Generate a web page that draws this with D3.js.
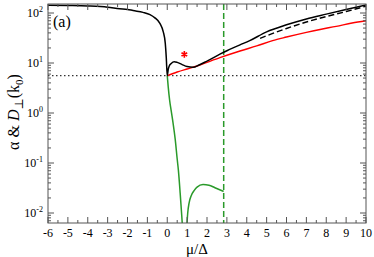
<!DOCTYPE html>
<html><head><meta charset="utf-8">
<script src="https://cdn.jsdelivr.net/npm/d3@7"></script>
<style>body{margin:0;background:#fff}svg{display:block}svg text{font-family:"Liberation Serif","DejaVu Serif",serif !important}</style>
</head><body><div id="c"></div>
<script>
const blackMu = [-6,-5,-4,-3,-2.4,-2,-1.72,-1.22,-0.87,-0.62,-0.37,-0.2,-0.1,-0.05,0,0.05,0.1,0.2,0.35,0.5,0.75,1.0,1.3,1.6,2.0,2.65,3.0,3.66,4.15,5,6,7,8,9,10];
const blackVal = [143,141,138,131,122,118,112,103,93,80,62,42,25,13,5.6,7.5,8.7,9.8,10.6,10.3,9.3,8.5,8.2,9.1,10.9,15,17.6,23,28,42,58,76,95,118,145];
const dashMu = [4.67,5,6,7,8,9,10];
const dashVal = [31,35,49,66,85,107,137];
const redMu = [0,0.5,1,1.5,2,2.65,3.66,4.5,5.3,6,7,7.69,8.5,9.3,10];
const redVal = [5.6,6.6,7.6,8.7,10.3,12.8,17.4,22,28,33,41,47,54,63,70];
const green1Mu = [0,0.05,0.12,0.2,0.3,0.4,0.5,0.56,0.65,0.72,0.77,0.8];
const green1Val = [5.6,3.3,1.8,1.1,0.6,0.3,0.12,0.072,0.025,0.01,0.005,0.003];
const green2Mu = [0.95,0.98,1.03,1.1,1.2,1.35,1.5,1.8,2.1,2.4,2.84];
const green2Val = [0.003,0.005,0.01,0.016,0.022,0.028,0.033,0.037,0.036,0.032,0.027];
const starMu = [0.86], starVal = [14.9];
const hLineVal = 5.6;
const vLineMu = 2.84;
const xTicks = d3.range(-6, 11, 1);
const yDecades = [-2,-1,0,1,2];

const W=374,H=257, L=48, R=366, T=4, B=223;
const svg = d3.select("#c").append("svg").attr("width",W).attr("height",H);
const x = d3.scaleLinear().domain([-6,10]).range([L,R]);
const y = d3.scaleLog().domain([Math.pow(10,-2.2), Math.pow(10,2.18)]).range([B,T]);

svg.append("defs").append("clipPath").attr("id","clip").append("rect").attr("x",L).attr("y",T).attr("width",R-L).attr("height",B-T);
const g = svg.append("g").attr("clip-path","url(#clip)");

const line = d3.line().x(d=>x(d[0])).y(d=>y(d[1])).curve(d3.curveMonotoneX);
const zip = (a,b)=>a.map((v,i)=>[v,b[i]]);

g.append("line").attr("x1",L).attr("x2",R).attr("y1",y(hLineVal)).attr("y2",y(hLineVal))
 .attr("stroke","#333").attr("stroke-width",1.2).attr("stroke-dasharray","1.5,2.5");
g.append("line").attr("x1",x(vLineMu)).attr("x2",x(vLineMu)).attr("y1",T).attr("y2",B)
 .attr("stroke","#2a9a2a").attr("stroke-width",1.5).attr("stroke-dasharray","6,3");

g.append("path").attr("d",line(zip(green1Mu,green1Val))).attr("fill","none").attr("stroke","#2a9a2a").attr("stroke-width",1.5);
g.append("path").attr("d",line(zip(green2Mu,green2Val))).attr("fill","none").attr("stroke","#2a9a2a").attr("stroke-width",1.5);
g.append("path").attr("d",line(zip(redMu,redVal))).attr("fill","none").attr("stroke","#ff0000").attr("stroke-width",1.5);
g.append("path").attr("d",line(zip(dashMu,dashVal))).attr("fill","none").attr("stroke","#000").attr("stroke-width",1.4).attr("stroke-dasharray","6,3");
g.append("path").attr("d",line(zip(blackMu,blackVal))).attr("fill","none").attr("stroke","#000").attr("stroke-width",1.5);

svg.selectAll(".star").data(zip(starMu,starVal)).enter().append("path")
 .attr("transform",d=>`translate(${x(d[0])},${y(d[1])})`)
 .attr("d",d3.symbol().type(d3.symbolAsterisk).size(30))
 .attr("stroke","#ff0000").attr("stroke-width",1.6).attr("fill","none");

const ax = svg.append("g").attr("stroke","#555").attr("stroke-width",1);
ax.append("rect").attr("x",L).attr("y",T).attr("width",R-L).attr("height",B-T).attr("fill","none");
const xMinor = d3.range(-5.5,10,1);
xTicks.forEach(t=>{
  ax.append("line").attr("x1",x(t)).attr("x2",x(t)).attr("y1",B).attr("y2",B-6);
  ax.append("line").attr("x1",x(t)).attr("x2",x(t)).attr("y1",T).attr("y2",T+6);
});
xMinor.forEach(t=>{
  ax.append("line").attr("x1",x(t)).attr("x2",x(t)).attr("y1",B).attr("y2",B-3);
  ax.append("line").attr("x1",x(t)).attr("x2",x(t)).attr("y1",T).attr("y2",T+3);
});
const yMin=[];
for(let e=-3;e<=2;e++) for(let k=2;k<=9;k++){const v=k*Math.pow(10,e); if(v>y.domain()[0]&&v<y.domain()[1]) yMin.push(v);}
yDecades.forEach(e=>{const v=Math.pow(10,e);
  ax.append("line").attr("x1",L).attr("x2",L+6).attr("y1",y(v)).attr("y2",y(v));
  ax.append("line").attr("x1",R).attr("x2",R-6).attr("y1",y(v)).attr("y2",y(v));
});
yMin.forEach(v=>{
  ax.append("line").attr("x1",L).attr("x2",L+3).attr("y1",y(v)).attr("y2",y(v));
  ax.append("line").attr("x1",R).attr("x2",R-3).attr("y1",y(v)).attr("y2",y(v));
});

svg.selectAll(".xl").data(xTicks).enter().append("text")
 .attr("x",d=>x(d)).attr("y",237).attr("text-anchor","middle").attr("font-size",12).attr("fill","#000")
 .text(d=>d);
yDecades.forEach(e=>{
  const t = svg.append("text").attr("x",43).attr("y",y(Math.pow(10,e))+4).attr("text-anchor","end").attr("font-size",12);
  t.append("tspan").text("10");
  t.append("tspan").attr("dy",-5).attr("font-size",8).text(e);
});

svg.append("text").attr("x",53).attr("y",27).attr("font-size",16).text("(a)");
svg.append("text").attr("x",197).attr("y",254).attr("text-anchor","middle").attr("font-size",15).text("μ/Δ");
const yl = svg.append("text").attr("transform","translate(19,112) rotate(-90)").attr("text-anchor","middle").attr("font-size",16);
yl.append("tspan").text("α & ");
yl.append("tspan").attr("font-style","italic").text("D");
yl.append("tspan").attr("dy",4).attr("font-size",12).text("⊥");
yl.append("tspan").attr("dy",-4).text("(k");
yl.append("tspan").attr("dy",4).attr("font-size",11).text("0");
yl.append("tspan").attr("dy",-4).text(")");
</script></body></html>
